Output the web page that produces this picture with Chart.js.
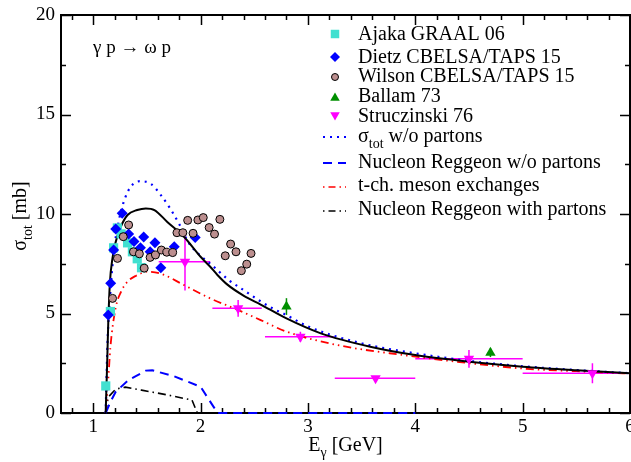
<!DOCTYPE html>
<html>
<head>
<meta charset="utf-8">
<script src="https://cdn.jsdelivr.net/npm/chart.js@4/dist/chart.umd.min.js"></script>
<style>
  html, body { margin: 0; padding: 0; background: #fff; }
</style>
</head>
<body>
<canvas id="xsec" width="631" height="462"></canvas>
<script>
// ---- data (E_gamma in GeV, sigma in mb) ----
const ajakaE   = [1.117, 1.16, 1.19, 1.225, 1.26, 1.32, 1.365, 1.41, 1.45];
const ajakaSig = [1.36, 5.1, 8.3, 9.3, 9.0, 8.55, 8.1, 7.75, 7.3];

const dietzE   = [1.14, 1.163, 1.19, 1.21, 1.27, 1.33, 1.38, 1.44, 1.47, 1.53, 1.575, 1.63, 1.755, 1.95];
const dietzSig = [4.92, 6.52, 8.19, 9.25, 10.04, 9.0, 8.62, 8.3, 8.85, 8.1, 8.55, 7.3, 8.35, 8.82];

const wilsonE   = [1.18, 1.226, 1.28, 1.33, 1.375, 1.43, 1.475, 1.53, 1.58, 1.635, 1.685, 1.74, 1.78, 1.835,
                   1.88, 1.93, 1.975, 2.025, 2.08, 2.13, 2.18, 2.23, 2.28, 2.33, 2.38, 2.43, 2.47];
const wilsonSig = [5.76, 7.77, 8.86, 9.45, 8.1, 8.0, 7.28, 7.82, 7.94, 8.19, 8.08, 8.06, 9.06, 9.06,
                   9.68, 9.03, 9.7, 9.82, 9.32, 8.99, 9.73, 7.9, 8.49, 8.1, 7.15, 7.48, 8.02];

const ballamE   = [2.8, 4.7];
const ballamSig = [5.35, 3.03];
const ballamErr = [0.42, 0.22];

const strucE    = [1.855, 2.35, 2.93, 3.63, 4.5, 5.65];
const strucSig  = [7.6, 5.26, 3.83, 1.74, 2.72, 2.0];
const strucErr  = [1.45, 0.42, 0.25, 0.1, 0.45, 0.5];
const strucElo  = [1.61, 2.11, 2.6, 3.25, 4.0, 5.0];
const strucEhi  = [2.09, 2.57, 3.24, 4.0, 5.0, 5.95];

// model curves
const totE   = [1.116, 1.13, 1.14, 1.155, 1.18, 1.21, 1.257, 1.32, 1.41, 1.49, 1.57, 1.69, 1.845, 2.0, 2.09,
                2.155, 2.25, 2.4, 2.56, 2.8, 3.12, 3.58, 4.0, 4.5, 5.0, 5.5, 6.0];
const totSig = [0, 2.5, 4.5, 6.5, 7.8, 8.6, 9.36, 9.95, 10.2, 10.28, 10.2, 9.6, 8.86, 7.85, 7.35,
                6.95, 6.45, 5.9, 5.45, 4.75, 4.0, 3.33, 2.91, 2.58, 2.33, 2.15, 2.0];

const noPartE   = [1.116, 1.133, 1.157, 1.19, 1.24, 1.29, 1.35, 1.44, 1.54, 1.63, 1.72, 1.8, 1.89, 1.98, 2.09,
                   2.27, 2.4, 2.53, 2.67, 2.8, 3.0, 3.5, 4.0, 4.5, 5.0, 5.5, 6.0];
const noPartSig = [0, 3.5, 5.85, 8.0, 9.7, 10.7, 11.37, 11.65, 11.5, 10.95, 10.25, 9.5, 8.55, 8.0, 7.5,
                   6.65, 6.18, 5.71, 5.26, 4.92, 4.35, 3.5, 3.0, 2.62, 2.35, 2.16, 2.0];

const regNoE   = [1.116, 1.16, 1.21, 1.33, 1.49, 1.55, 1.75, 2.0, 2.12, 2.16, 4.0];
const regNoSig = [0, 0.55, 1.07, 1.66, 2.13, 2.15, 1.85, 1.32, 0.32, 0, 0];

const mesonE   = [1.116, 1.14, 1.16, 1.21, 1.26, 1.32, 1.4, 1.505, 1.63, 1.845, 2.09, 2.34, 2.56, 2.8,
                  3.27, 3.89, 4.51, 5.04, 5.5, 6.0];
const mesonSig = [0, 1.65, 3.3, 5.3, 6.1, 6.6, 6.9, 7.1, 7.0, 6.43, 5.76, 5.2, 4.67, 4.09,
                  3.42, 2.91, 2.5, 2.22, 2.1, 1.98];

const regWithE   = [1.116, 1.14, 1.21, 1.3, 1.45, 1.7, 1.92, 1.97, 4.0];
const regWithSig = [0, 0.8, 1.2, 1.3, 1.15, 0.9, 0.65, 0, 0];

const xTicks = [1, 2, 3, 4, 5, 6];
const yTicks = [0, 5, 10, 15, 20];

const cyan = '#40e0d0', blue = '#0000ff', rosy = '#bc8f8f', green = '#008f00', magenta = '#ff00ff', red = '#ff0000';
const serif = '"Liberation Serif", "DejaVu Serif", serif';

const pts = (xs, ys) => xs.map((x, i) => ({ x: x, y: ys[i] }));

function marks(label, xs, ys, style, color, r, extra) {
    return Object.assign({
        label: label, data: pts(xs, ys), showLine: false,
        pointStyle: style, pointRadius: r, pointHoverRadius: r,
        pointBackgroundColor: color, pointBorderColor: color, pointBorderWidth: 0
    }, extra || {});
}
function curve(label, xs, ys, color, dash, width, smooth) {
    return {
        label: label, data: pts(xs, ys), showLine: true, pointRadius: 0,
        borderColor: color, borderWidth: width, borderDash: dash, fill: false,
        cubicInterpolationMode: smooth ? 'monotone' : 'default', tension: 0, clip: 4
    };
}

// error bars, frame, ticks, titles and legend are drawn by hand
const decor = {
    id: 'decor',
    beforeDatasetsDraw(chart) {
        const ctx = chart.ctx, sx = chart.scales.x, sy = chart.scales.y;
        ctx.save();
        ctx.lineWidth = 1.5;
        ctx.strokeStyle = magenta;
        strucE.forEach((e, i) => {
            const py = sy.getPixelForValue(strucSig[i]), px = sx.getPixelForValue(e);
            ctx.beginPath();
            ctx.moveTo(sx.getPixelForValue(strucElo[i]), py);
            ctx.lineTo(sx.getPixelForValue(strucEhi[i]), py);
            ctx.moveTo(px, sy.getPixelForValue(strucSig[i] - strucErr[i]));
            ctx.lineTo(px, sy.getPixelForValue(strucSig[i] + strucErr[i]));
            ctx.stroke();
        });
        ctx.strokeStyle = green;
        ballamE.forEach((e, i) => {
            const px = sx.getPixelForValue(e);
            ctx.beginPath();
            ctx.moveTo(px, sy.getPixelForValue(ballamSig[i] - ballamErr[i]));
            ctx.lineTo(px, sy.getPixelForValue(ballamSig[i] + ballamErr[i]));
            ctx.stroke();
        });

        // frame + inward ticks on all four sides
        const a = chart.chartArea;
        ctx.strokeStyle = '#000';
        ctx.lineWidth = 1.5;
        ctx.beginPath();
        for (let v = 0.8; v <= 6.001; v += 0.2) {
            const major = Math.abs(v - Math.round(v)) < 1e-6;
            const len = major ? 10 : 5, px = Math.round(sx.getPixelForValue(v)) + 0.5;
            ctx.moveTo(px, a.bottom); ctx.lineTo(px, a.bottom - len);
            ctx.moveTo(px, a.top); ctx.lineTo(px, a.top + len);
        }
        for (let v = 0; v <= 20.001; v += 2.5) {
            const len = (v % 5 === 0) ? 10 : 5, py = Math.round(sy.getPixelForValue(v)) + 0.5;
            ctx.moveTo(a.left, py); ctx.lineTo(a.left + len, py);
            ctx.moveTo(a.right, py); ctx.lineTo(a.right - len, py);
        }
        ctx.stroke();
        ctx.lineWidth = 2;
        ctx.strokeRect(a.left, a.top, a.right - a.left, a.bottom - a.top);

        // x tick labels
        ctx.fillStyle = '#000';
        ctx.font = '19px ' + serif;
        ctx.textAlign = 'center';
        ctx.textBaseline = 'alphabetic';
        xTicks.forEach(v => ctx.fillText(String(v), sx.getPixelForValue(v), a.bottom + 19));
        ctx.restore();
    },
    afterDraw(chart) {
        const ctx = chart.ctx, a = chart.chartArea;
        ctx.save();
        ctx.fillStyle = '#000';
        ctx.textBaseline = 'alphabetic';

        // reaction label
        ctx.font = '19px ' + serif;
        ctx.fillText('\u03b3 p \u2192 \u03c9 p', 93, 53);

        // x title  E_gamma [GeV]
        drawSub(ctx, [['E', 0], ['\u03b3', 1], [' [GeV]', 0]], (a.left + a.right) / 2, 451, true);

        // y title  sigma_tot [mb], rotated
        ctx.save();
        ctx.translate(26, 216);
        ctx.rotate(-Math.PI / 2);
        drawSub(ctx, [['\u03c3', 0], ['tot', 1], [' [mb]', 0]], 0, 0, true);
        ctx.restore();

        // legend
        const lx = 335, tx = 358;
        const sym = [
            ['rect', cyan, 6, 0, 34, 40, 'Ajaka GRAAL 06'],
            ['rectRot', blue, 5, 0, 57, 63, 'Dietz CBELSA/TAPS 15'],
            ['circle', rosy, 3.5, 0, 77, 82, 'Wilson CBELSA/TAPS 15'],
            ['triangle', green, 5.5, 0, 98, 102, 'Ballam 73'],
            ['triangle', magenta, 5.5, 180, 115, 122, 'Struczinski 76']
        ];
        sym.forEach(s => {
            ctx.fillStyle = s[1];
            ctx.strokeStyle = s[0] === 'circle' ? '#000' : s[1];
            ctx.lineWidth = s[0] === 'circle' ? 1 : 0.01;
            Chart.helpers.drawPoint(ctx, { pointStyle: s[0], radius: s[2], rotation: s[3], borderWidth: ctx.lineWidth }, lx, s[4]);
            ctx.fillStyle = '#000';
            ctx.font = '20px ' + serif;
            ctx.textAlign = 'left';
            ctx.fillText(s[6], tx, s[5]);
        });
        const lines = [
            [blue, [2, 5], 2.2, 137, 142, [['\u03c3', 0], ['tot', 1], [' w/o partons', 0]]],
            [blue, [9, 6], 2, 163, 168, [['Nucleon Reggeon w/o partons', 0]]],
            [red, [1.5, 4, 7, 4], 1.5, 187, 191, [['t-ch. meson exchanges', 0]]],
            ['#000', [1.5, 4, 7, 4], 1.5, 211, 215, [['Nucleon Reggeon with partons', 0]]]
        ];
        lines.forEach(l => {
            ctx.strokeStyle = l[0];
            ctx.lineWidth = l[2];
            ctx.setLineDash(l[1]);
            ctx.beginPath();
            ctx.moveTo(323, l[3]); ctx.lineTo(346, l[3]);
            ctx.stroke();
            ctx.setLineDash([]);
            ctx.fillStyle = '#000';
            drawSub(ctx, l[5], tx, l[4], false);
        });
        ctx.restore();
    }
};

function drawSub(ctx, parts, x, y, centred) {
    const big = '20px ' + serif, small = '14px ' + serif;
    let w = 0;
    parts.forEach(p => { ctx.font = p[1] ? small : big; w += ctx.measureText(p[0]).width; });
    let cx = centred ? x - w / 2 : x;
    ctx.textAlign = 'left';
    parts.forEach(p => {
        ctx.font = p[1] ? small : big;
        ctx.fillText(p[0], cx, y + (p[1] ? 6 : 0));
        cx += ctx.measureText(p[0]).width;
    });
}

new Chart(document.getElementById('xsec'), {
    type: 'scatter',
    data: {
        datasets: [
            marks('Struczinski 76', strucE, strucSig, 'triangle', magenta, 6, { rotation: 180 }),
            marks('Ballam 73', ballamE, ballamSig, 'triangle', green, 6),
            marks('Wilson CBELSA/TAPS 15', wilsonE, wilsonSig, 'circle', rosy, 4, { pointBorderColor: '#000', pointBorderWidth: 1 }),
            marks('Dietz CBELSA/TAPS 15', dietzE, dietzSig, 'rectRot', blue, 5.5),
            marks('Ajaka GRAAL 06', ajakaE, ajakaSig, 'rect', cyan, 6.5),
            curve('total', totE, totSig, '#000', [], 2, true),
            curve('sigma_tot w/o partons', noPartE, noPartSig, blue, [2, 5], 2.2, true),
            curve('Nucleon Reggeon w/o partons', regNoE, regNoSig, blue, [9, 6], 2, false),
            curve('t-ch. meson exchanges', mesonE, mesonSig, red, [8, 4, 1.5, 4, 1.5, 4], 1.8, true),
            curve('Nucleon Reggeon with partons', regWithE, regWithSig, '#000', [8, 4, 1.5, 4], 1.6, false)
        ]
    },
    options: {
        responsive: false,
        animation: false,
        events: [],
        layout: { autoPadding: false, padding: { top: 15, right: 1, bottom: 0, left: 0 } },
        plugins: { legend: { display: false }, tooltip: { enabled: false } },
        scales: {
            x: {
                type: 'linear', min: 0.7, max: 6,
                grid: { display: false, drawTicks: false },
                border: { display: false },
                afterBuildTicks: s => { s.ticks = xTicks.map(v => ({ value: v })); },
                afterFit: s => { s.height = 49; },
                ticks: { display: false }
            },
            y: {
                type: 'linear', min: 0, max: 20,
                grid: { display: false, drawTicks: false },
                border: { display: false },
                afterBuildTicks: s => { s.ticks = yTicks.map(v => ({ value: v })); },
                afterFit: s => { s.width = 61; s.paddingTop = 0; s.paddingBottom = 0; },
                ticks: { color: '#000', padding: 6, font: { family: serif, size: 19 } }
            }
        }
    },
    plugins: [decor]
});
</script>
</body>
</html>
